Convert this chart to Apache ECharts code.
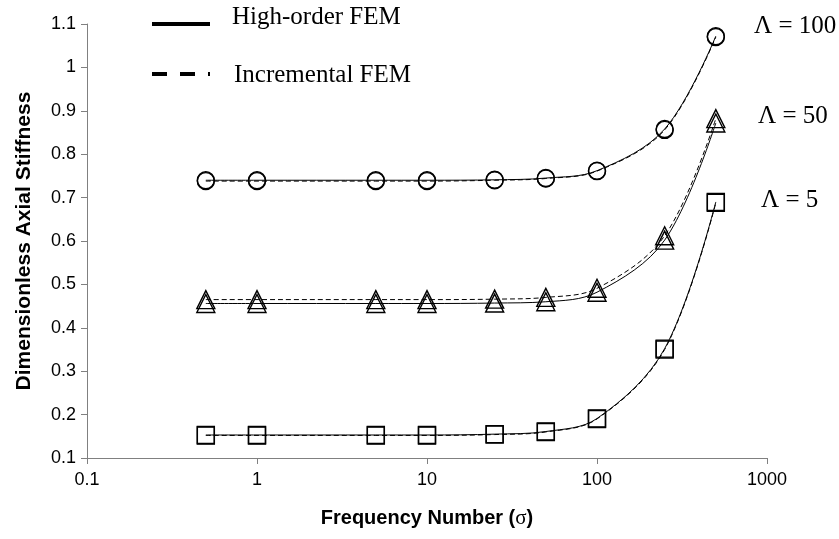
<!DOCTYPE html>
<html>
<head>
<meta charset="utf-8">
<script src="https://cdn.jsdelivr.net/npm/echarts@6/dist/echarts.min.js"></script>
<style>
  html, body { margin: 0; padding: 0; background: #fff; }
  #chart { width: 839px; height: 539px; }
</style>
</head>
<body>
<div id="chart"></div>
<script>
// ─── Data ─────────────────────────────────────────────────────────────────
const sigma = [0.5, 1, 5, 10, 25, 50, 100, 250, 500];

// Λ = 100 (circles)
const highOrder100   = [0.740, 0.740, 0.740, 0.740, 0.741, 0.745, 0.762, 0.858, 1.072];
const incremental100 = [0.738, 0.738, 0.738, 0.738, 0.740, 0.744, 0.761, 0.856, 1.070];

// Λ = 50 (triangles)
const highOrder50   = [0.456, 0.456, 0.456, 0.456, 0.457, 0.460, 0.482, 0.602, 0.872];
const incremental50 = [0.465, 0.465, 0.465, 0.465, 0.466, 0.470, 0.491, 0.612, 0.882];

// Λ = 5 (squares)
const highOrder5   = [0.153, 0.153, 0.153, 0.153, 0.155, 0.161, 0.191, 0.352, 0.690];
const incremental5 = [0.152, 0.152, 0.152, 0.152, 0.154, 0.160, 0.190, 0.350, 0.688];

const yTicks = { min: 0.1, max: 1.1, step: 0.1 };
const xTicks = { min: 0.1, max: 1000 };

const curveLabels = ["Λ = 100", "Λ = 50", "Λ = 5"];
const legendNames = ["High-order FEM", "Incremental FEM"];

// ─── Helpers ──────────────────────────────────────────────────────────────
const SANS = "'Liberation Sans', Arial, sans-serif";
const SERIF = "'Liberation Serif', 'Times New Roman', serif";

function pairs(ys) {
  return sigma.map((x, i) => [x, ys[i]]);
}

function makeSeries(name, ys, symbol, dashed) {
  return {
    name,
    type: 'line',
    data: pairs(ys),
    smooth: 0.35,
    symbol,
    symbolSize: symbol === 'triangle' ? 18 : 17,
    showAllSymbol: true,
    lineStyle: { color: '#000', width: 1, type: dashed ? [5, 3] : 'solid' },
    itemStyle: { color: 'rgba(0,0,0,0)', borderColor: '#000', borderWidth: 1.4 },
    emphasis: { disabled: true },
    z: dashed ? 3 : 2,
  };
}

const chart = echarts.init(document.getElementById('chart'), null, { renderer: 'canvas' });

chart.setOption({
  animation: false,
  backgroundColor: '#fff',
  grid: { left: 87, right: 72, top: 24, bottom: 81, outerBoundsMode: 'none' },
  xAxis: {
    type: 'log',
    logBase: 10,
    min: xTicks.min,
    max: xTicks.max,
    name: 'Frequency Number ({s|σ})',
    nameLocation: 'middle',
    nameGap: 50,
    nameTextStyle: {
      fontFamily: SANS, fontWeight: 'bold', fontSize: 20, color: '#000',
      rich: { s: { fontFamily: SERIF, fontWeight: 'normal', fontSize: 21, color: '#000' } }
    },
    axisLine: { show: true, onZero: false, lineStyle: { color: '#808080', width: 1 } },
    axisTick: { show: true, inside: false, length: 6, lineStyle: { color: '#808080' } },
    minorTick: { show: false },
    splitLine: { show: false },
    axisLabel: {
      margin: 13, fontFamily: SANS, fontSize: 18, color: '#000',
      formatter: v => String(Number(v.toPrecision(6)))
    },
  },
  yAxis: {
    type: 'value',
    min: yTicks.min,
    max: yTicks.max,
    interval: yTicks.step,
    name: 'Dimensionless Axial Stiffness',
    nameLocation: 'middle',
    nameGap: 52,
    nameTextStyle: { fontFamily: SANS, fontWeight: 'bold', fontSize: 21, color: '#000' },
    axisLine: { show: true, onZero: false, lineStyle: { color: '#808080', width: 1 } },
    axisTick: { show: true, inside: false, length: 6, lineStyle: { color: '#808080' } },
    splitLine: { show: false },
    axisLabel: {
      margin: 11, fontFamily: SANS, fontSize: 18, color: '#000',
      formatter: v => String(Number(v.toFixed(1)))
    },
  },
  series: [
    makeSeries(legendNames[0], highOrder100, 'circle', false),
    makeSeries(legendNames[1], incremental100, 'circle', true),
    makeSeries(legendNames[0], highOrder50, 'triangle', false),
    makeSeries(legendNames[1], incremental50, 'triangle', true),
    makeSeries(legendNames[0], highOrder5, 'rect', false),
    makeSeries(legendNames[1], incremental5, 'rect', true),
  ],
  // ─── Legend and curve annotations drawn as plain graphics ──────────────
  graphic: [
    { type: 'line', shape: { x1: 152, y1: 24, x2: 210, y2: 24 },
      style: { stroke: '#000', lineWidth: 4 } },
    { type: 'text', left: 232, top: 5,
      style: { text: legendNames[0], font: `25px ${SERIF}`, fill: '#000' } },
    { type: 'line', shape: { x1: 152, y1: 74, x2: 210, y2: 74 },
      style: { stroke: '#000', lineWidth: 4, lineDash: [15, 13] } },
    { type: 'text', left: 234, top: 63,
      style: { text: legendNames[1], font: `25px ${SERIF}`, fill: '#000' } },
    { type: 'text', left: 754, top: 14,
      style: { text: curveLabels[0], font: `25px ${SERIF}`, fill: '#000' } },
    { type: 'text', left: 758, top: 104,
      style: { text: curveLabels[1], font: `25px ${SERIF}`, fill: '#000' } },
    { type: 'text', left: 761, top: 188,
      style: { text: curveLabels[2], font: `25px ${SERIF}`, fill: '#000' } },
  ],
});
</script>
</body>
</html>
